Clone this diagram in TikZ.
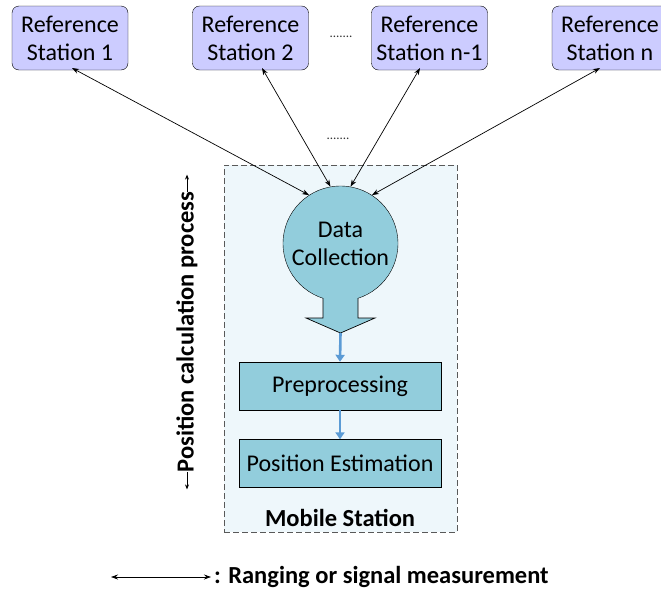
\documentclass[tikz,border=0pt]{standalone}
\usepackage{fontspec}
\setmainfont{Carlito}
\usetikzlibrary{arrows.meta,calc}
\definecolor{refFill}{RGB}{204,204,255}
\definecolor{procFill}{RGB}{146,205,220}
\definecolor{msFill}{RGB}{238,247,251}
\definecolor{flowBlue}{RGB}{91,155,213}
\begin{document}
\begin{tikzpicture}[x=1pt,y=-1pt,
  font=\fontsize{24}{28}\selectfont,
  boldlabel/.style={font=\bfseries\fontsize{24.5}{28}\selectfont},
  refbox/.style={draw=black,fill=refFill,rounded corners=7pt,minimum width=116pt,minimum height=64pt,align=center,inner sep=0pt},
  procbox/.style={draw=black,fill=procFill,minimum width=202pt,minimum height=48pt,inner sep=0pt},
  link/.style={{Stealth[length=7pt,width=5pt]}-{Stealth[length=7pt,width=5pt]},line width=0.7pt},
  flow/.style={-{Triangle[length=7pt,width=9pt]},draw=flowBlue,line width=2.6pt}
]
\useasboundingbox (0,0) rectangle (661,592);

% mobile station frame
\node[draw=black!65,dash pattern=on 6pt off 3pt,fill=msFill,line width=0.9pt,minimum width=233pt,minimum height=367pt,inner sep=0pt] (ms) at (340.5,348.5) {};
\node[boldlabel] (mslabel) at (340,518) {Mobile Station};

% reference stations
\node[refbox] (rs1) at (70,38) {Reference\\Station 1};
\node[refbox] (rs2) at (250.5,38) {Reference\\Station 2};
\node[refbox] (rsn1) at (429.5,38) {Reference\\Station n-1};
\node[refbox] (rsn) at (610,38) {Reference\\Station n};
\node[font=\fontsize{13}{16}\selectfont,text=black!80] (dots1) at (341,37) {.......};
\node[font=\fontsize{13}{16}\selectfont,text=black!80] (dots2) at (338,139) {.......};

% processing chain
\node[circle,draw=black,fill=procFill,minimum size=115pt,align=center,inner sep=0pt] (dc) at (340.5,243.5) {Data\\Collection};
\node[procbox] (pre) at (340,386) {Preprocessing};
\node[procbox] (pos) at (340,463.5) {Position Estimation};

% block arrow out of the circle
\draw[black,fill=procFill,line width=0.7pt] (323,298) -- (323,318) -- (306,318) -- (340.5,333) -- (375,318) -- (358,318) -- (358,298);
\coordinate (tip) at (340.5,333);
\draw[flow] (tip) -- (pre.north);
\draw[flow] (pre.south) -- (pos.north);

% ranging links
\coordinate (a1) at (72,68);
\coordinate (a2) at (262,68);
\coordinate (a3) at (420,68);
\coordinate (a4) at (600,68);
\draw[link] (a1) -- (dc.123);
\draw[link] (a2) -- (dc.100);
\draw[link] (a3) -- (dc.80);
\draw[link] (a4) -- (dc.57);

% process direction label
\node[rotate=90,boldlabel,inner sep=0pt] (pcp) at (187,332) {Position calculation process};
\draw[-{Stealth[length=5pt,width=4pt]},line width=0.8pt] (pcp.east) -- ($(pcp.east)+(0,-17)$);
\draw[-{Stealth[length=5pt,width=4pt]},line width=0.8pt] (pcp.west) -- ($(pcp.west)+(0,17)$);

% legend
\coordinate (lgA) at (111,577);
\coordinate (lgB) at (211,577);
\draw[link] (lgA) -- (lgB);
\node[anchor=west,boldlabel,inner sep=0pt] (lgtext) at (214,577) {: Ranging or signal measurement};
\end{tikzpicture}
\end{document}
